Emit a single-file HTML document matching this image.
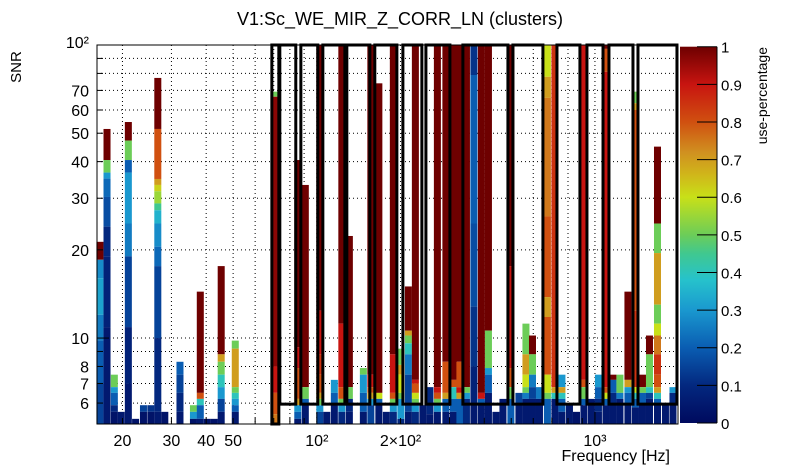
<!DOCTYPE html>
<html><head><meta charset="utf-8"><style>
html,body{margin:0;padding:0;background:#fff}
svg{display:block;font-family:"Liberation Sans",sans-serif}
</style></head><body>
<svg id="chart" width="805" height="472" viewBox="0 0 805 472">
<defs>
<linearGradient id="pal" x1="0" y1="1" x2="0" y2="0">
<stop offset="0" stop-color="#000a5e"/><stop offset="0.1" stop-color="#03287f"/>
<stop offset="0.2" stop-color="#0a5db2"/><stop offset="0.3" stop-color="#1a98cf"/>
<stop offset="0.38" stop-color="#26c2cc"/><stop offset="0.45" stop-color="#40c890"/>
<stop offset="0.5" stop-color="#6ccd58"/><stop offset="0.6" stop-color="#c8e018"/>
<stop offset="0.66" stop-color="#d0b61a"/><stop offset="0.72" stop-color="#d09020"/>
<stop offset="0.8" stop-color="#d05010"/><stop offset="0.9" stop-color="#c81410"/>
<stop offset="1" stop-color="#6e0000"/>
</linearGradient>
</defs>
<rect x="0" y="0" width="805" height="472" fill="#fff"/>
<text x="400" y="25" font-size="18" text-anchor="middle">V1:Sc_WE_MIR_Z_CORR_LN (clusters)</text>
<g id="grid"></g>
<g id="cells"></g>
<g id="boxes"></g>
<rect x="97" y="45" width="581" height="379" fill="none" stroke="#000" stroke-width="1"/>
<g id="axes"></g>
<text x="0" y="0" font-size="15" text-anchor="middle" transform="translate(21,67) rotate(-90)">SNR</text>
<text x="670" y="461" font-size="16" text-anchor="end">Frequency [Hz]</text>
<rect x="680" y="46.7" width="37" height="376.3" fill="url(#pal)"/>
<g id="cbaxis"></g>
<text x="0" y="0" font-size="14" text-anchor="end" transform="translate(767,47) rotate(-90)">use-percentage</text>
</svg>
<script>
const colFreqs=[16.6,17.6,18.7,19.8,21.0,22.3,23.8,25.3,26.8,28.4,32.2,36.0,38.1,40.4,42.8,45.3,50.9,70.9,85.4,90.9,102.5,108.6,115.6,123.0,130.9,147.0,156.4,167.1,177.8,188.4,200.5,213.4,226.1,240.6,255.0,271.3,291.1,309.7,326.9,345.1,367.1,390.6,414.0,440.5,466.9,498.6,532.9,564.8,596.2,631.7,674.6,717.9,760.8,809.7,858.3,912.9,971.4,1029.4,1095.6,1160.6,1229.9,1314,1398.7,1482.2,1570.6,1678.4,1792.8,1908];
const colSegs=[
[[21.3,1],[18.5,0.28],[16,0.32],[12,0.25],[9.8,0.2],[7,0.15]],
[[51.7,1],[40.5,0.5],[36.7,0.3],[35,0.22],[30.3,0.17],[24,0.1],[19,0.08],[10.9,0.05]],
[[7.5,0.5],[6.8,0.3],[6.5,0.2],[5.9,0.1],[5.6,0.03]],
[[5.6,0.05]],
[[54.6,1],[47.2,0.5],[40.5,0.2],[36.7,0.3],[24.6,0.25],[19,0.15],[10.9,0.08],[7,0.05]],
[[5.3,0.03]],
[[5.9,0.15],[5.6,0.03]],
[[5.9,0.12],[5.6,0.03]],
[[77.2,1],[51.7,0.8],[34.9,0.7],[33.3,0.62],[31.7,0.55],[28.8,0.45],[27.3,0.35],[24.6,0.28],[20.5,0.22],[17.6,0.15],[10,0.1],[5.6,0.05]],
[[5.6,0.03]],
[[8.3,0.2],[7.5,0.15],[6.5,0.1],[5.6,0.05]],
[[5.9,0.5],[5.6,0.3],[5.3,0.03]],
[[14.4,1],[6.5,0.8],[6.2,0.4],[5.9,0.2],[5.3,0.05]],
[[5.3,0.03]],
[[5.3,0.03]],
[[17.6,1],[8.8,0.7],[8.3,0.5],[7.5,0.4],[6.8,0.3],[6.2,0.15],[5.6,0.05]],
[[9.8,0.5],[9.2,0.7],[6.8,0.5],[6.5,0.4],[6.2,0.3],[5.9,0.2],[5.6,0.05]],
[[69.3,0.5],[66.6,0.97],[8,0.9],[6.5,0.8],[5.5,0.75]],
[[40.5,1],[9.3,0.9],[7.9,0.8],[6.2,0.7],[5.9,0.3],[5.6,0.2],[5.3,0.05]],
[[33.3,1],[6.8,0.5],[6.2,0.2],[5.9,0.05]],
[[100,1],[12.4,0.9],[8.8,0.85],[7.5,0.8],[6.5,0.7],[6.2,0.5],[5.9,0.3],[5.6,0.15]],
[[5.6,0.05]],
[[7.2,0.3],[6.5,0.2],[5.9,0.05]],
[[100,1],[11.2,0.9],[6.8,0.8],[6.2,0.5],[5.9,0.3],[5.6,0.1]],
[[22.3,1],[6.8,0.5],[6.2,0.1],[5.6,0.05]],
[[7.9,0.5],[7.5,0.3],[6.5,0.2],[5.6,0.05]],
[[100,1],[7.5,0.9],[6.8,0.8],[6.5,0.7],[6.2,0.3],[5.9,0.15]],
[[74,1],[6.5,0.6],[6.2,0.2],[5.9,0.05]],
[[5.6,0.05]],
[[100,1],[8.8,0.9],[6.5,0.8],[6.2,0.5],[5.9,0.3],[5.6,0.1]],
[[9.2,0.5],[8.1,0.7],[7.5,0.6],[6.5,0.5],[6.2,0.3],[5.3,0.1]],
[[15,1],[10.6,0.7],[10.2,0.5],[9.6,0.4],[8.8,0.25],[7.5,0.15],[5.6,0.05]],
[[100,1],[7.2,0.9],[7,0.8],[6.5,0.6],[6.2,0.5],[5.9,0.3],[5.6,0.1]],
[[5.9,0.05]],
[[6.8,0.1],[5.5,0.05]],
[[100,1],[6.8,0.9],[6.5,0.8],[6.2,0.5],[5.9,0.3],[5.6,0.05]],
[[100,1],[8.3,0.8],[6.5,0.7],[6.2,0.2],[5.6,0.05]],
[[100,1],[7.2,0.8],[6.8,0.4],[6.2,0.2],[5.6,0.05]],
[[100,1],[8.3,0.8],[6.8,0.9],[6.5,0.7],[6.2,0.2]],
[[100,1],[6.8,0.5],[6.5,0.3],[6.2,0.1]],
[[100,0.12],[79,0.2],[24.6,0.17],[12.8,0.12],[8,0.08],[6,0.05]],
[[100,1],[6.5,0.9],[6.2,0.2],[5.9,0.05]],
[[100,1],[10.6,0.5],[7.9,0.3],[7.5,0.2],[6.5,0.05]],
[[5.6,0.05]],
[[6.2,0.05]],
[[100,1],[17.6,0.9],[7.9,0.8],[6.8,0.5],[6.2,0.2]],
[[6.5,0.15],[6,0.05]],
[[11.2,0.5],[8.8,0.7],[7.5,0.6],[6.8,0.5],[6.5,0.25],[6.2,0.05]],
[[10.2,1],[8.8,0.5],[7.5,0.25],[6.8,0.15],[6.2,0.05]],
[[6.8,0.25],[6.2,0.05]],
[[100,0.6],[77.9,0.7],[66,0.75],[26,0.8],[13.8,0.7],[11.8,0.8],[7.5,0.6],[6.5,0.5],[6.2,0.2]],
[[100,0.85],[6.8,0.7],[6.5,0.4],[6.2,0.05]],
[[7.5,0.3],[6.8,0.7],[6.5,0.4],[6.2,0.2],[5.6,0.05]],
[[5.9,0.05]],
[[5.6,0.03]],
[[100,0.9],[7.2,0.8],[6.8,0.5],[6.2,0.2],[5.9,0.05]],
[[6.2,0.05]],
[[7.5,0.3],[6.8,0.2],[6.2,0.1],[5.6,0.05]],
[[100,1],[97,0.8],[81,0.9],[6.8,0.8],[6.5,0.6],[6.2,0.2],[5.9,0.05]],
[[7.5,1],[7.2,0.2],[6.5,0.1],[5.9,0.05]],
[[7.5,0.5],[6.5,0.25],[6.2,0.05]],
[[14.4,1],[7.2,0.7],[6.8,0.3],[6.5,0.2],[5.9,0.05]],
[[69.3,0.5],[63.3,0.7],[60,0.8],[12.4,0.85],[6.8,0.6],[6.5,0.4],[6.2,0.2],[5.8,0.05]],
[[7.5,1],[6.8,0.5],[6.5,0.2],[5.9,0.05]],
[[10.2,1],[8.8,0.5],[6.8,0.4],[6.5,0.15],[6.2,0.05]],
[[45,1],[24.6,0.5],[19.5,0.7],[13,0.5],[11.2,0.6],[10.2,0.75],[8.8,0.85],[7.5,0.8],[6.8,0.7],[6.5,0.4],[6.2,0.2],[5.9,0.05]],
[[5.9,0.05]],
[[6.8,0.3],[6.5,0.1],[5.9,0.05]]
];
const boxLo=[68.9,73.6,87.6,105.1,128.2,161.6,203.9,246.7,335.1,507,730,936,1123,1428];
const boxHi=[73.0,84.0,100.8,126.1,155.1,194.0,238.6,300.9,486.5,650,883,1069,1370,1972];
const boxBottom=[5.09,5.95,5.95,5.95,5.95,5.95,5.95,5.95,5.95,5.95,5.95,5.95,5.95,5.95];
const xTickVals=[20,30,40,50,60,70,80,90,100,200,300,400,500,600,700,800,900,1000];
const xLabelVals=[20,30,40,50,100,200,1000];
const xLabelText=["20","30","40","50","10²","2×10²","10³"];
const yTickVals=[6,7,8,9,10,20,30,40,50,60,70,80,90,100];
const yLabelVals=[6,7,8,10,20,30,40,50,60,70,100];
const yLabelText=["6","7","8","10","20","30","40","50","60","70","10²"];
const cbTicks=[0,0.1,0.2,0.3,0.4,0.5,0.6,0.7,0.8,0.9,1];
const cbLabels=["0","0.1","0.2","0.3","0.4","0.5","0.6","0.7","0.8","0.9","1"];

const NS="http://www.w3.org/2000/svg";
const X0=97,X1=678,Y0=45,Y1=424;
const LF0=Math.log10(16.2),LF1=Math.log10(1989),LS0=Math.log10(5.09),LS1=2;
function xs(f){return X0+(Math.log10(f)-LF0)/(LF1-LF0)*(X1-X0);}
function ys(s){return Y1-(Math.log10(s)-LS0)/(LS1-LS0)*(Y1-Y0);}
const stops=[[0,[0,10,94]],[0.1,[3,40,127]],[0.2,[10,93,178]],[0.3,[26,152,207]],[0.38,[38,194,204]],[0.45,[64,200,144]],[0.5,[108,205,88]],[0.6,[200,224,24]],[0.66,[208,182,26]],[0.72,[208,144,32]],[0.8,[208,80,16]],[0.9,[200,20,16]],[1,[110,0,0]]];
function col(v){for(let i=1;i<stops.length;i++){if(v<=stops[i][0]){const a=stops[i-1],b=stops[i],t=(v-a[0])/(b[0]-a[0]);const c=a[1].map((x,k)=>Math.round(x+(b[1][k]-x)*t));return `rgb(${c[0]},${c[1]},${c[2]})`;}}return 'rgb(110,0,0)';}
function mk(tag,attrs,parent){const e=document.createElementNS(NS,tag);for(const k in attrs)e.setAttribute(k,attrs[k]);parent.appendChild(e);return e;}
const HW=0.0126;
const gCells=document.getElementById('cells');
colFreqs.forEach((f,i)=>{
  const segs=colSegs[i];
  const xl=xs(f/Math.pow(10,HW)),xr=xs(f*Math.pow(10,HW));
  segs.forEach((sg,j)=>{
    const top=Math.min(sg[0],100);
    const bot=j+1<segs.length?segs[j+1][0]:5.09;
    const r=mk('rect',{x:xl.toFixed(2),y:ys(top).toFixed(2),width:(xr-xl).toFixed(2),height:(ys(bot)-ys(top)).toFixed(2),fill:col(sg[1])},gCells);
    
    
  });
});
const gGrid=document.getElementById('grid');
xTickVals.forEach(v=>{const l=mk('line',{x1:xs(v),x2:xs(v),y1:Y0,y2:Y1,stroke:'#000','stroke-width':1,'stroke-dasharray':'1,3'},gGrid);

});
yTickVals.forEach(v=>{const l=mk('line',{x1:X0,x2:X1,y1:ys(v),y2:ys(v),stroke:'#000','stroke-width':1,'stroke-dasharray':'1,3'},gGrid);

});
const gBox=document.getElementById('boxes');
boxLo.forEach((lo,i)=>{const x1=xs(lo),x2=Math.min(xs(boxHi[i]),X1-1);
const r=mk('rect',{x:x1.toFixed(2),y:Y0,width:(x2-x1).toFixed(2),height:(ys(boxBottom[i])-Y0).toFixed(2),fill:'none',stroke:'#000','stroke-width':3},gBox);

});
const gAx=document.getElementById('axes');
xTickVals.forEach(v=>{const major=(v===100||v===1000);const l=mk('line',{x1:xs(v),x2:xs(v),y1:Y1,y2:Y1-(major?12:6),stroke:'#000','stroke-width':1},gAx);

});
xLabelVals.forEach((v,i)=>{const t=mk('text',{x:xs(v),y:446,'font-size':16,'text-anchor':'middle'},gAx);t.textContent=xLabelText[i];

});
yTickVals.forEach(v=>{const major=(v===10||v===100);const l=mk('line',{x1:X0,x2:X0+(major?12:6),y1:ys(v),y2:ys(v),stroke:'#000','stroke-width':1},gAx);

});
yLabelVals.forEach((v,i)=>{const t=mk('text',{x:89,y:ys(v)+(v===100?3:6),'font-size':16,'text-anchor':'end'},gAx);t.textContent=yLabelText[i];

});
const gCb=document.getElementById('cbaxis');
const CB0=423,CB1=46.7;
mk('line',{x1:717,x2:717,y1:CB1,y2:CB0,stroke:'#000','stroke-width':1},gCb);
cbTicks.forEach((v,i)=>{const y=CB0-(CB0-CB1)*v;
const l=mk('line',{x1:697,x2:717,y1:y,y2:y,stroke:'#000','stroke-width':1},gCb);


const t=mk('text',{x:721,y:y+6,'font-size':15},gCb);t.textContent=cbLabels[i];

});
</script>
</body></html>
